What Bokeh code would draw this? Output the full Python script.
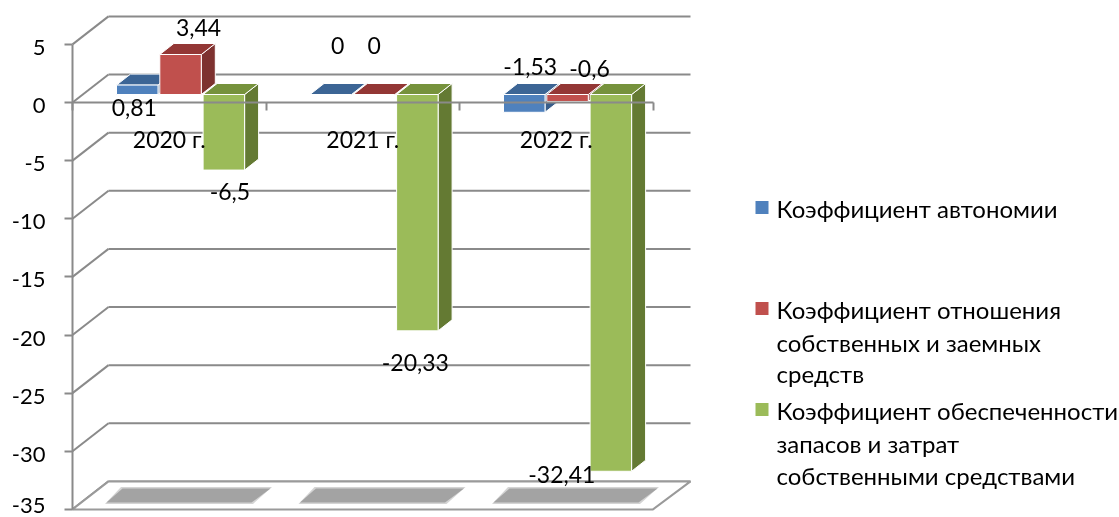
from bokeh.plotting import figure
from bokeh.models import Range1d, LinearAxis, FixedTicker
from bokeh.core.properties import value
from bokeh.embed import file_html
from bokeh.resources import INLINE

categories = ["2020 г.", "2021 г.", "2022 г."]
autonomy = [0.81, 0, -1.53]
debt_ratio = [3.44, 0, -0.6]
coverage = [-6.5, -20.33, -32.41]
value_labels = [["0,81", "0", "-1,53"], ["3,44", "0", "-0,6"], ["-6,5", "-20,33", "-32,41"]]
y_ticks = [5, 0, -5, -10, -15, -20, -25, -30, -35]
y_tick_labels = ["5", "0", "-5", "-10", "-15", "-20", "-25", "-30", "-35"]

W, H = 1119, 517
FONT = "Lato"
FS = "23px"
GRID = "#8a8a8a"
X0 = 72
CAT_W = 193.5
Y0 = 102
UNIT = 11.625

def xc(px):
    return (px - X0) / CAT_W

def yc(py):
    return (Y0 - py) / UNIT

def dx(px):
    return px / CAT_W

def dy(px):
    return px / UNIT

p = figure(width=W, height=H, output_backend="svg", toolbar_location=None,
           x_range=Range1d(xc(0), xc(W)), y_range=Range1d(yc(H), yc(0)),
           min_border_left=0, min_border_right=0, min_border_top=0, min_border_bottom=0,
           x_axis_type=None, y_axis_type=None, outline_line_color=None)
p.styles = {"position": "fixed", "left": "0px", "top": "0px"}
p.grid.visible = False

# walls
WX, WY = dx(36), dy(28)
right_back = xc(690)
p.multi_line([[0, WX] for _ in y_ticks], [[t, t + WY] for t in y_ticks], line_color=GRID, line_width=2)
p.multi_line([[WX, right_back] for _ in y_ticks], [[t + WY] * 2 for t in y_ticks], line_color=GRID, line_width=2)

# floor
floor_y = min(y_ticks)
p.patch([0, WX, right_back, 3], [floor_y, floor_y + WY, floor_y + WY, floor_y],
        fill_color="white", line_color="#9a9a9a", line_width=2)

# floor shadows
for k in range(3):
    for grow, col in [(1.5, "#d4d4d4"), (0, "#a3a3a3")]:
        sx = [k + xc(106 - grow), k + xc(122 - grow), k + xc(270 + grow), k + xc(251 + grow)]
        sy = [yc(502 + grow), yc(488 - grow), yc(488 - grow), yc(502 + grow)]
        p.patch(sx, sy, fill_color=col, line_color=None)

# bars
BAR_W = dx(41.5)
STEP = dx(43.3)
FIRST = dx(44)
BASE = dy(8)
DX, DY = dx(14), dy(11)
colors = [("#4f81bd", "#3c6595", "#385d8a"),
          ("#c0504d", "#933735", "#7e3230"),
          ("#9bbb59", "#76923c", "#647a33")]
all_series = [autonomy, debt_ratio, coverage]
for k in range(3):
    for s, vals in enumerate(all_series):
        v = vals[k]
        left = k + FIRST + s * STEP
        right = left + BAR_W
        top = BASE + max(v, 0)
        bot = BASE + min(v, 0)
        front, tp, side = colors[s]
        p.patch([right, right + DX, right + DX, right], [bot, bot + DY, top + DY, top],
                fill_color=side, line_color="white", line_width=1)
        p.patch([left, left + DX, right + DX, right], [top, top + DY, top + DY, top],
                fill_color=tp, line_color="white", line_width=1)
        if v != 0:
            p.quad(left=[left], right=[right], top=[top], bottom=[bot],
                   fill_color=front, line_color="white", line_width=1)

# axes
ya = LinearAxis(ticker=FixedTicker(ticks=y_ticks), bounds=(min(y_ticks), max(y_ticks)), fixed_location=0,
                major_label_text_font_size="0px", major_label_text_color=None,
                axis_line_color=GRID, axis_line_width=2, major_tick_line_color=GRID, major_tick_line_width=2,
                major_tick_in=0, major_tick_out=8, minor_tick_line_color=None)
p.add_layout(ya, "left")
xa = LinearAxis(ticker=FixedTicker(ticks=[0, 1, 2, 3]), bounds=(0, 3), fixed_location=0,
                major_label_text_font_size="0px", major_label_text_color=None,
                axis_line_color=GRID, axis_line_width=2, major_tick_line_color=GRID, major_tick_line_width=2,
                major_tick_in=0, major_tick_out=8, minor_tick_line_color=None)
p.add_layout(xa, "below")

def txt(x, y, t, size=FS, **kw):
    kw.setdefault("text_baseline", "middle")
    p.text(x=x, y=y, text=t, text_font=value(FONT), text_font_size=size, text_color="black",
           level="overlay", **kw)

# value-axis labels, a little below their ticks; the lowest one is lifted to stay inside the page
txt([xc(45)] * 8, y_ticks[:-1], y_tick_labels[:-1], size="22px", text_align="right", y_offset=3)
txt([xc(45)], [yc(H - 5)], y_tick_labels[-1:], size="22px", text_align="right", text_baseline="bottom")

# category labels
txt([k + 0.5 for k in range(3)], [yc(138)] * 3, categories, text_align="center")

# data labels: anchored on the bar centre, with offsets in pixels
label_dx = [[-3, 7, 6], [18, 0, 22], [6, -2, -49]]
label_py = [[107, 45, 66], [27, 45, 68], [191, 362, 474]]
for s, vals in enumerate(all_series):
    xs = [k + FIRST + s * STEP + BAR_W / 2 + dx(label_dx[s][k]) for k in range(3)]
    ys = [yc(label_py[s][k]) for k in range(3)]
    txt(xs, ys, value_labels[s], text_align="center")

# legend
legend_lines = [[(208, "Коэффициент автономии")],
                [(309, "Коэффициент отношения"), (342, "собственных и заемных"), (373, "средств")],
                [(410, "Коэффициент обеспеченности"), (443, "запасов и затрат"), (475, "собственными средствами")]]
for s, lines in enumerate(legend_lines):
    cy = lines[0][0] - 1
    p.quad(left=[xc(755)], right=[xc(768)], top=[yc(cy - 6.5)], bottom=[yc(cy + 6.5)],
           fill_color=colors[s][0], line_color=None)
    txt([xc(776)] * len(lines), [yc(l[0]) for l in lines], [l[1] for l in lines], size="24px", text_align="left")

open("out.html", "w").write(file_html(p, INLINE))
